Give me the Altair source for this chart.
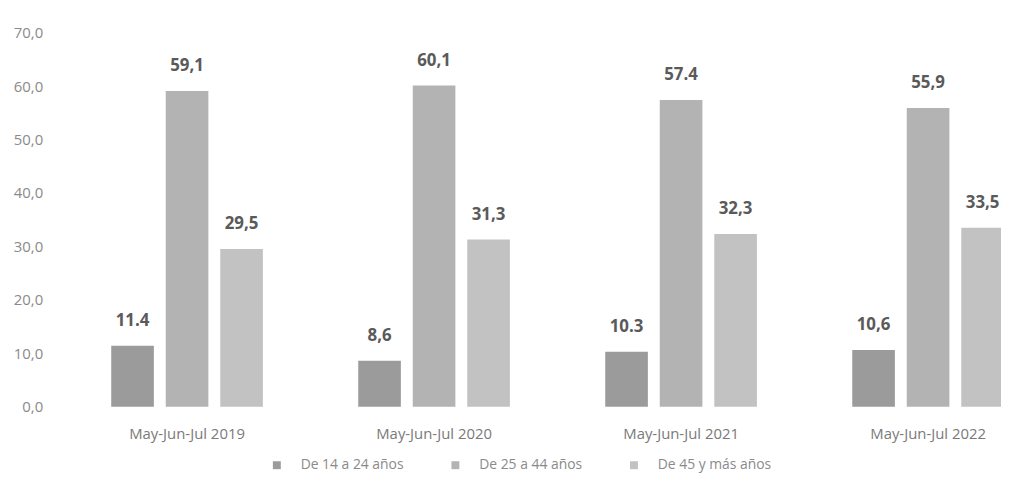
import altair as alt
import pandas as pd

periods = ["May-Jun-Jul 2019", "May-Jun-Jul 2020", "May-Jun-Jul 2021", "May-Jun-Jul 2022"]
groups = ["De 14 a 24 años", "De 25 a 44 años", "De 45 y más años"]
v14_24 = [11.4, 8.6, 10.3, 10.6]
v25_44 = [59.1, 60.1, 57.4, 55.9]
v45 = [29.5, 31.3, 32.3, 33.5]
lab14_24 = ["11.4", "8,6", "10.3", "10,6"]
lab25_44 = ["59,1", "60,1", "57.4", "55,9"]
lab45 = ["29,5", "31,3", "32,3", "33,5"]
colors = ["#9b9b9b", "#b3b3b3", "#c2c2c2"]

rows = []
for series, vals, labs in zip(groups, [v14_24, v25_44, v45], [lab14_24, lab25_44, lab45]):
    for p, v, l in zip(periods, vals, labs):
        rows.append({"period": p, "group": series, "value": v, "label": l})
df = pd.DataFrame(rows)

FONT = "Open Sans"

x = alt.X("period:N", sort=periods, title=None,
          scale=alt.Scale(paddingInner=0.386, paddingOuter=0.193),
          axis=alt.Axis(labelAngle=0, domain=False, ticks=False, labelPadding=20,
                        labelFontSize=15, labelColor="#7a7a7a", labelFont=FONT))
xo = alt.XOffset("group:N", sort=groups, scale=alt.Scale(paddingInner=0.218, paddingOuter=0))
y = alt.Y("value:Q", title=None,
          scale=alt.Scale(domain=[0, 70], nice=False),
          axis=alt.Axis(values=[0, 10, 20, 30, 40, 50, 60, 70], grid=False, domain=False, ticks=False,
                        labelPadding=21, labelFontSize=15, labelColor="#8a8a8a", labelFont=FONT,
                        labelExpr="replace(format(datum.value, '.1f'), '.', ',')"))

base = alt.Chart(df)

bars = base.mark_bar().encode(
    x=x, xOffset=xo, y=y,
    color=alt.Color("group:N", sort=groups, scale=alt.Scale(domain=groups, range=colors),
                    legend=alt.Legend(title=None, orient="none", legendX=208, legendY=429,
                                      direction="horizontal",
                                      symbolType="square", symbolSize=64, symbolStrokeWidth=0,
                                      labelFontSize=14, labelColor="#8a8a8a", labelFont=FONT,
                                      labelOffset=17, columnPadding=45, padding=0)),
)

texts = base.mark_text(dy=-16, baseline="bottom", fontSize=17, fontWeight="bold",
                       color="#5a5a5a", font=FONT).encode(
    x=x, xOffset=xo, y=y, text="label:N")

zero = alt.Chart(pd.DataFrame({"z": [0]})).mark_rule(color="#e4e4e4", strokeWidth=1).encode(
    y=alt.Y("z:Q"), x=alt.value(30))

chart = alt.layer(zero, bars, texts).properties(
    width=996, height=377,
    padding={"left": 56, "top": 23, "right": -51, "bottom": 70},
    autosize=alt.AutoSizeParams(type="none"),
).configure_view(stroke=None).configure_legend(labelLimit=300)

chart.save("out.html", embed_options={"renderer": "svg", "actions": False})
